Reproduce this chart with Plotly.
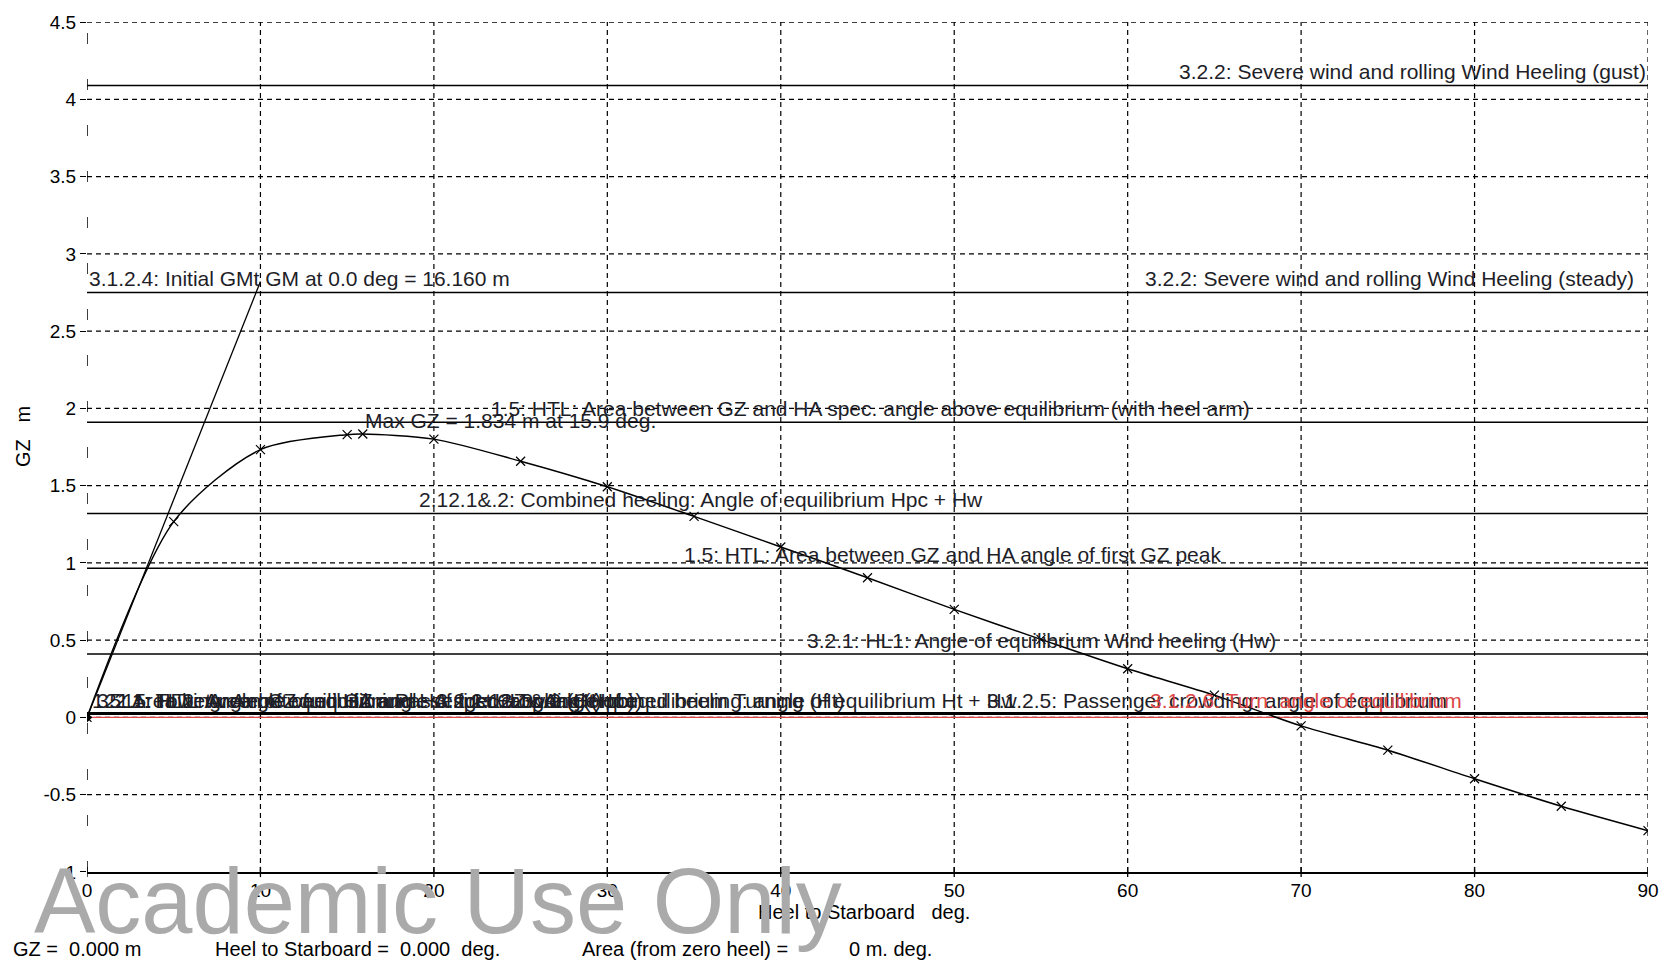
import plotly.graph_objects as go

# ---- GZ curve (heel in deg, GZ in m) ----
heel = [0, 5, 10, 15, 15.9, 20, 25, 30, 35, 40, 45, 50, 55, 60, 65, 70, 75, 80, 85, 90]
gz = [0, 1.267, 1.733, 1.830, 1.834, 1.801, 1.658, 1.493, 1.301, 1.103, 0.904, 0.699,
      0.505, 0.315, 0.144, -0.055, -0.212, -0.397, -0.575, -0.733]

max_gz_heel = 15.9
max_gz = 1.834
initial_gm = 16.160          # m
gm_line_end_heel = 10.0      # deg, where the GM tangent is cut off

# ---- heeling arm levels (m) ----
arm_gust = 4.09
arm_steady = 2.75
arm_htl_spec = 1.91
arm_combined = 1.32
arm_htl_peak = 0.965
arm_wind = 0.41
arm_low = 0.025
arm_turn = 0.0

# ---- criteria captions ----
caption_gust = "3.2.2: Severe wind and rolling Wind Heeling (gust)"
caption_steady = "3.2.2: Severe wind and rolling Wind Heeling (steady)"
caption_gm = "3.1.2.4: Initial GMt GM at 0.0 deg = 16.160 m"
caption_htl_spec = "1.5: HTL: Area between GZ and HA spec. angle above equilibrium (with heel arm)"
caption_combined = "2.12.1&.2: Combined heeling: Angle of equilibrium Hpc + Hw"
caption_htl_peak = "1.5: HTL: Area between GZ and HA angle of first GZ peak"
caption_wind = "3.2.1: HL1: Angle of equilibrium Wind heeling (Hw)"
caption_crowd = "3.1.2.5: Passenger crowding: angle of equilibrium"
caption_turn = "3.1.2.6: Turn: angle of equilibrium"
captions_low = [
    "1.5: Area between GZ and HA angle of first GZ peak (Hpc)",
    "3.2.1: HL2: Angle of equilibrium Passenger crowding (Hpc)",
    "2.11: Towing: Angle of equilibrium",
    "1.5: HTL: Area between GZ and HA spec. angle (Ht)",
    "3.2.1: HL3: Angle of equilibrium Turning (Ht)",
    "2.12.1&.2: Combined heeling: angle of equilibrium Ht + Hw",
]
captions_low_heel = [0.15, 0.45, 0.9, 1.6, 20.0, 22.0]

max_caption = f"Max GZ = {max_gz:.3f} m at {max_gz_heel} deg."

x_ticks = list(range(0, 91, 10))
y_ticks = [-1, -0.5, 0, 0.5, 1, 1.5, 2, 2.5, 3, 3.5, 4, 4.5]
y_tick_text = ["-1", "-0.5", "0", "0.5", "1", "1.5", "2", "2.5", "3", "3.5", "4", "4.5"]

FONT = "Liberation Sans, Arial, sans-serif"
TXT = "#1e1e28"
RED = "#dc4646"

fig = go.Figure()

# heeling arm lines
for level in [arm_gust, arm_steady, arm_htl_spec, arm_combined, arm_htl_peak, arm_wind]:
    fig.add_trace(go.Scatter(x=[0, 90], y=[level, level], mode="lines",
                             line=dict(color="black", width=1.5), hoverinfo="skip"))
fig.add_trace(go.Scatter(x=[0, 90], y=[arm_low, arm_low], mode="lines",
                         line=dict(color="black", width=3), hoverinfo="skip"))
fig.add_trace(go.Scatter(x=[0, 90], y=[arm_turn, arm_turn], mode="lines",
                         line=dict(color=RED, width=1.3), hoverinfo="skip"))

# initial GM tangent
fig.add_trace(go.Scatter(x=[0, gm_line_end_heel],
                         y=[0, initial_gm * gm_line_end_heel / 57.2958],
                         mode="lines", line=dict(color="black", width=1.3), hoverinfo="skip"))

# GZ curve
fig.add_trace(go.Scatter(x=heel, y=gz, mode="lines+markers",
                         line=dict(color="black", width=1.5, shape="spline", smoothing=0.8),
                         marker=dict(symbol="x-thin", size=9, color="black",
                                     line=dict(color="black", width=1.2))))
fig.add_trace(go.Scatter(x=[heel[0]], y=[gz[0]], mode="markers",
                         marker=dict(symbol="diamond", size=8, color="black")))

# grid lines
shapes = []
for xv in x_ticks[1:]:
    shapes.append(dict(type="line", xref="x", yref="y", x0=xv, x1=xv, y0=-1, y1=4.5,
                       line=dict(color="black", width=1.2, dash="5px,4px"), layer="below"))
shapes.append(dict(type="line", xref="x", yref="y", x0=0, x1=0, y0=-1, y1=4.5,
                   line=dict(color="black", width=1.5, dash="11px,35px"), layer="below"))
for yv in y_ticks[1:]:
    shapes.append(dict(type="line", xref="x", yref="y", x0=0, x1=90, y0=yv, y1=yv,
                       line=dict(color="black", width=1.2, dash="5px,4px"), layer="below"))
# tick marks crossing the heel axis
for xv in x_ticks:
    shapes.append(dict(type="line", xref="x", yref="paper", x0=xv, x1=xv, y0=-0.006, y1=0.006,
                       line=dict(color="black", width=1.3)))

annotations = []


def caption(x, y, text, anchor="left", color=TXT, size=21):
    annotations.append(dict(x=x, y=y, xref="x", yref="y", text=text, showarrow=False,
                            xanchor=anchor, yanchor="bottom", yshift=0,
                            font=dict(family=FONT, size=size, color=color)))


caption(90, arm_gust, caption_gust, anchor="right")
caption(60.9, arm_steady, caption_steady)
caption(0, arm_steady, caption_gm)
caption(23.2, arm_htl_spec, caption_htl_spec)
caption(max_gz_heel, max_gz, max_caption)
caption(19.0, arm_combined, caption_combined)
caption(34.3, arm_htl_peak, caption_htl_peak)
caption(41.4, arm_wind, caption_wind)
for hx, t in zip(captions_low_heel, captions_low):
    caption(hx, arm_low, t)
caption(51.8, arm_low, caption_crowd)
caption(61.2, arm_low, caption_turn, color=RED)

# axis titles
annotations.append(dict(x=-0.041, y=0.513, xref="paper", yref="paper", text="GZ\u00a0\u00a0\u00a0m",
                        textangle=-90, showarrow=False, xanchor="center", yanchor="middle",
                        font=dict(family=FONT, size=20, color="black")))
annotations.append(dict(x=0.498, y=-0.047, xref="paper", yref="paper",
                        text="Heel to Starboard\u00a0\u00a0\u00a0deg.", showarrow=False,
                        xanchor="center", yanchor="middle",
                        font=dict(family=FONT, size=20, color="black")))

# status read-out
status = [(-0.0486, "GZ =\u00a0\u00a00.000 m"),
          (0.0806, "Heel to Starboard =\u00a0\u00a00.000\u00a0\u00a0deg."),
          (0.316, "Area (from zero heel) ="),
          (0.4866, "0 m. deg.")]
for sx, st in status:
    annotations.append(dict(x=sx, y=-0.09, xref="paper", yref="paper", text=st, showarrow=False,
                            xanchor="left", yanchor="middle",
                            font=dict(family=FONT, size=20, color="black")))

# watermark
annotations.append(dict(x=-0.035, y=-0.034, xref="paper", yref="paper", text="Academic Use Only",
                        showarrow=False, xanchor="left", yanchor="middle",
                        font=dict(family="Liberation Sans, Arial", size=92, color="#aaaaaa")))

fig.update_layout(
    width=1671, height=961,
    margin=dict(l=87, r=15, t=13, b=89),
    paper_bgcolor="white", plot_bgcolor="white",
    showlegend=False,
    shapes=shapes, annotations=annotations,
    xaxis=dict(range=[0, 90], tickvals=x_ticks, showgrid=False, zeroline=False,
               showline=True, linecolor="black", linewidth=1.5,
               ticks="", ticklabelstandoff=0,
               tickfont=dict(family=FONT, size=19, color="black")),
    yaxis=dict(range=[-1.0005, 4.5005], tickvals=y_ticks, ticktext=y_tick_text, showgrid=False,
               zeroline=False, showline=False, ticks="outside", ticklen=6, tickcolor="black",
               tickfont=dict(family=FONT, size=19, color="black")),
)

fig.write_html("out.html")
